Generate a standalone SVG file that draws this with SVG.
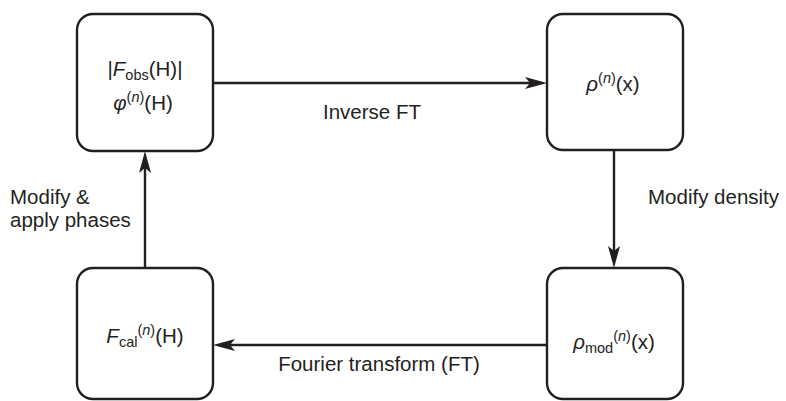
<svg xmlns="http://www.w3.org/2000/svg" width="786" height="401" viewBox="0 0 786 401">
  <style>
    .box { fill: #ffffff; stroke: #231f20; stroke-width: 2.4; }
    .conn { fill: none; stroke: #231f20; stroke-width: 2.4; }
    text { font-family: "Liberation Sans", Arial, Helvetica, sans-serif; fill: #231f20; }
    .lbl { font-size: 20.5px; }
    .node { font-size: 20.5px; }
    .it { font-style: italic; }
    .sm { font-size: 14.5px; }
  </style>
  <defs>
    <marker id="arrow" viewBox="0 -6 22 12" refX="14" refY="0" markerWidth="22" markerHeight="12" markerUnits="userSpaceOnUse" orient="auto">
      <path d="M0,-6 L22,0 L0,6 L5,0 Z" fill="#231f20"/>
    </marker>
  </defs>

  <g id="connectors">
    <line class="conn" x1="213" y1="83" x2="539" y2="83" marker-end="url(#arrow)"/>
    <line class="conn" x1="614" y1="150" x2="614" y2="260" marker-end="url(#arrow)"/>
    <line class="conn" x1="547" y1="345" x2="221" y2="345" marker-end="url(#arrow)"/>
    <line class="conn" x1="145" y1="268" x2="145" y2="159" marker-end="url(#arrow)"/>
    <text class="lbl" x="372" y="119" text-anchor="middle">Inverse FT</text>
    <text class="lbl" x="648" y="204">Modify density</text>
    <text class="lbl" x="379" y="371" text-anchor="middle">Fourier transform (FT)</text>
    <text class="lbl" x="10" y="204">Modify &amp;</text>
    <text class="lbl" x="10" y="227">apply phases</text>
  </g>

  <g id="node-fobs">
    <rect class="box" x="77" y="14" width="136" height="137" rx="16" ry="16"/>
    <text class="node" x="145" y="76" text-anchor="middle">|<tspan class="it">F</tspan><tspan class="sm" dy="4">obs</tspan><tspan dy="-4">(H)|</tspan></text>
    <text class="node" x="143" y="110" text-anchor="middle"><tspan class="it">φ</tspan><tspan class="sm" dy="-8">(<tspan class="it">n</tspan>)</tspan><tspan dy="8">(H)</tspan></text>
  </g>

  <g id="node-rho">
    <rect class="box" x="547" y="14" width="136" height="136" rx="16" ry="16"/>
    <text class="node" x="613" y="91" text-anchor="middle"><tspan class="it">ρ</tspan><tspan class="sm" dy="-8">(<tspan class="it">n</tspan>)</tspan><tspan dy="8">(x)</tspan></text>
  </g>

  <g id="node-rhomod">
    <rect class="box" x="547" y="268" width="136" height="131" rx="16" ry="16"/>
    <text class="node" x="614" y="349" text-anchor="middle"><tspan class="it">ρ</tspan><tspan class="sm" dy="4">mod</tspan><tspan class="sm" dy="-12">(<tspan class="it">n</tspan>)</tspan><tspan dy="8">(x)</tspan></text>
  </g>

  <g id="node-fcal">
    <rect class="box" x="77" y="268" width="136" height="131" rx="16" ry="16"/>
    <text class="node" x="145" y="343" text-anchor="middle"><tspan class="it">F</tspan><tspan class="sm" dy="4">cal</tspan><tspan class="sm" dy="-12">(<tspan class="it">n</tspan>)</tspan><tspan dy="8">(H)</tspan></text>
  </g>
</svg>
